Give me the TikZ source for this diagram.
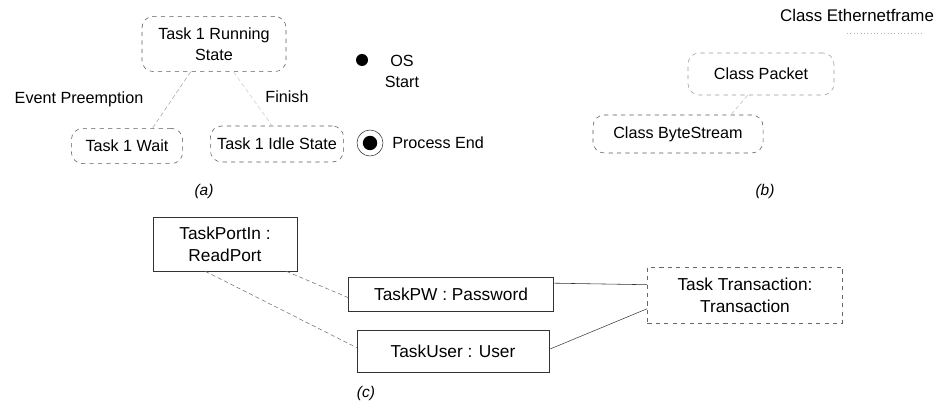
\documentclass[tikz,border=0pt]{standalone}
\usepackage{fontspec}
\setmainfont{Liberation Sans}
\usetikzlibrary{positioning}
\definecolor{scangray}{HTML}{5A5A5A}
\tikzset{
  statebox/.style={draw=scangray, dashed, rounded corners=8pt, align=center, inner sep=0pt},
  objbox/.style={draw=black!80, align=center, inner sep=0pt, font=\fontsize{12.3}{15.5}\selectfont},
  faintline/.style={draw=black!35, densely dashed},
  caption/.style={font=\fontsize{11}{13}\selectfont\itshape}
}

\begin{document}
\begin{tikzpicture}[x=0.025cm, y=-0.025cm, every node/.style={font=\fontsize{11.5}{15}\selectfont}]
  \useasboundingbox (0,0) rectangle (946,406);

  % (a) task states
  \node[statebox, minimum width=3.6cm, minimum height=1.38cm] (running) at (214,44) {Task 1 Running\\State};
  \node[statebox, minimum width=2.78cm, minimum height=0.88cm] (wait) at (127,146) {Task 1 Wait};
  \node[statebox, minimum width=3.33cm, minimum height=0.9cm] (idle) at (277,144) {Task 1 Idle State};
  \node (preempt) at (79,99) {Event Preemption};
  \node (finish) at (287,97) {Finish};
  \draw[faintline] (running.230) -- (wait.35);
  \draw[faintline, draw=black!20] (running.305) -- (idle.105);

  \node[circle, fill=black, minimum size=0.3cm, inner sep=0pt] (osstart) at (362,60) {};
  \node[align=center] (osstartlbl) at (402,71) {OS\\Start};
  \node[circle, draw=black!80, minimum size=0.65cm, inner sep=0pt] (procend) at (370,143) {};
  \node[circle, fill=black, minimum size=0.36cm, inner sep=0pt] at (procend) {};
  \node[right=0.1cm of procend] (procendlbl) {Process End};
  \node[caption] (capa) at (204,191) {(a)};

  % (b) classes
  \node[font=\fontsize{12}{15}\selectfont] (ether) at (857,15) {Class Ethernetframe};
  \coordinate (etherl) at (847,33);
  \coordinate (etherr) at (923,33);
  \draw[black!30, dotted] (etherl) -- (etherr);
  \node[statebox, draw=black!40, minimum width=3.65cm, minimum height=1.05cm] (packet) at (761,74) {Class Packet};
  \node[statebox, minimum width=4.25cm, minimum height=0.95cm] (bytestream) at (678,134) {Class ByteStream};
  \draw[faintline, draw=black!25] (packet.238) -- (bytestream.20);
  \node[caption] (capb) at (765,191) {(b)};

  % (c) tasks
  \node[objbox, minimum width=3.6cm, minimum height=1.35cm] (portin) at (225,244) {TaskPortIn :\\ReadPort};
  \node[objbox, minimum width=5.13cm, minimum height=0.85cm] (pw) at (451,294) {TaskPW : Password};
  \node[objbox, minimum width=4.8cm, minimum height=1.05cm] (user) at (453,351) {TaskUser : User};
  \node[objbox, dashed, draw=black!60, minimum width=4.88cm, minimum height=1.4cm] (trans) at (745,295) {Task Transaction:\\Transaction};
  \draw[faintline, draw=black!55] (portin.336) -- (pw.182);
  \draw[faintline, draw=black!55] (portin.234) -- (user.178);
  \draw[black!80] (pw.6) -- (trans.174);
  \draw[black!75] (user.1) -- (trans.188);
  \node[caption] (capc) at (366,393) {(c)};
\end{tikzpicture}
\end{document}
